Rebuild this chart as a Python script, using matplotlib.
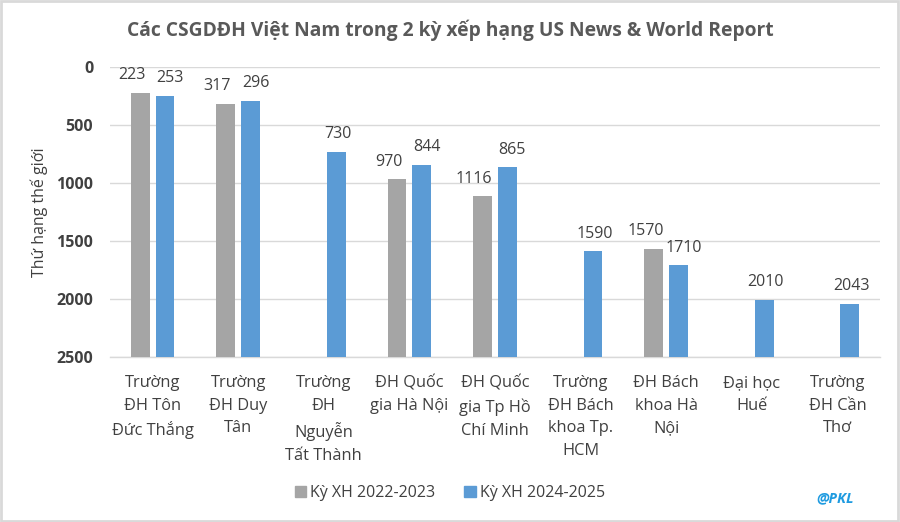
import numpy as np
import matplotlib
matplotlib.use('Agg')
import matplotlib.pyplot as plt
from matplotlib.patches import Rectangle

# data
schools = ['Trường\nĐH Tôn\nĐức Thắng', 'Trường\nĐH Duy\nTân', 'Trường\nĐH\nNguyễn\nTất Thành',
           'ĐH Quốc\ngia Hà Nội', 'ĐH Quốc\ngia Tp Hồ\nChí Minh', 'Trường\nĐH Bách\nkhoa Tp.\nHCM',
           'ĐH Bách\nkhoa Hà\nNội', 'Đại học\nHuế', 'Trường\nĐH Cần\nThơ']
rank_2022 = [223, 317, None, 970, 1116, None, 1570, None, None]
rank_2024 = [253, 296, 730, 844, 865, 1590, 1710, 2010, 2043]
series_names = ['Kỳ XH 2022-2023', 'Kỳ XH 2024-2025']
yticks = [0, 500, 1000, 1500, 2000, 2500]

plt.rcParams['font.family'] = ['Open Sans', 'DejaVu Sans']
gray = '#a5a5a5'
blue = '#5b9bd5'
txt = '#404040'

fig = plt.figure(figsize=(9, 5.22), dpi=100)
ax = fig.add_axes([0.122, 0.316, 0.856, 0.556])

x = np.arange(len(schools))
w = 0.22
gap = 0.035
base = 2500
for i in range(len(schools)):
    paired = rank_2022[i] is not None
    if paired:
        ax.bar(x[i] - w/2 - gap, rank_2022[i] - base, bottom=base, width=w, color=gray, zorder=3)
        ax.annotate(str(rank_2022[i]), (x[i] - w/2 - gap, rank_2022[i]), xytext=(-6, 7),
                    textcoords='offset points', ha='center', va='bottom', fontsize=11.5, color=txt)
    ax.bar(x[i] + w/2 + gap, rank_2024[i] - base, bottom=base, width=w, color=blue, zorder=3)
    ax.annotate(str(rank_2024[i]), (x[i] + w/2 + gap, rank_2024[i]), xytext=(3.5 if paired else 1, 7),
                textcoords='offset points', ha='center', va='bottom', fontsize=11.5, color=txt)

ax.set_xlim(-0.5, len(schools) - 0.5)
ax.set_ylim(2500, 0)
ax.set_yticks(yticks)
ax.set_yticklabels([str(t) for t in yticks], fontweight='bold', fontsize=11.5, color=txt)
ax.set_xticks(x)
ax.set_xticklabels(schools, fontsize=11.8, color=txt, linespacing=1.55)
ax.tick_params(axis='both', length=0)
ax.tick_params(axis='y', pad=12)
ax.tick_params(axis='x', pad=13)
ax.grid(axis='y', color='#d9d9d9', linewidth=1, zorder=0)
for s in ['top', 'left', 'right']:
    ax.spines[s].set_visible(False)
ax.spines['bottom'].set_color('#d9d9d9')
ax.spines['bottom'].set_linewidth(1)
ax.set_ylabel('Thứ hạng thế giới', fontsize=11.5, color=txt, labelpad=6)

fig.text(0.5, 0.941, 'Các CSGDĐH Việt Nam trong 2 kỳ xếp hạng US News & World Report',
         ha='center', va='center', fontsize=13.9, fontweight='bold', color='#595959')

handles = [Rectangle((0, 0), 1, 1, color=gray), Rectangle((0, 0), 1, 1, color=blue)]
fig.legend(handles, series_names, loc='center', bbox_to_anchor=(0.5, 0.055), ncol=2, frameon=False,
           fontsize=11.5, handlelength=0.7, handleheight=0.7, handletextpad=0.3, columnspacing=1.8,
           labelcolor=txt)

fig.text(0.928, 0.046, '@PKL', ha='center', va='center', fontsize=10.5, fontweight='bold',
         fontstyle='italic', color='#1f9be0')

fig.patches.append(Rectangle((0.001, 0.002), 0.997, 0.996, transform=fig.transFigure, fill=False,
                             edgecolor='#d9d9d9', linewidth=2))

fig.savefig('out.png', dpi=100)
